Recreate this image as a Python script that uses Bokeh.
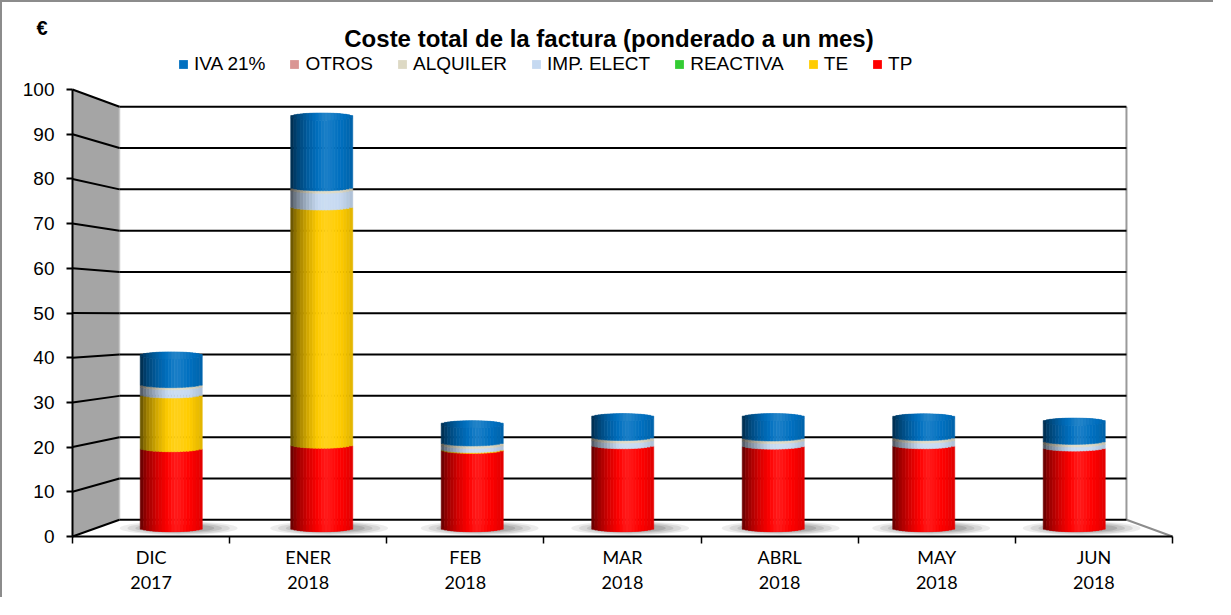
import numpy as np
from bokeh.plotting import figure
from bokeh.models import (Range1d, FixedTicker, LinearAxis, Legend, LegendItem,
                          Label, ColumnDataSource)
from bokeh.embed import file_html
from bokeh.resources import INLINE

# ---------------- data ----------------
CATEGORIES = ["DIC", "ENER", "FEB", "MAR", "ABRL", "MAY", "JUN"]
YEARS = ["2017", "2018", "2018", "2018", "2018", "2018", "2018"]
TP = [18.6, 19.4, 18.2, 19.3, 19.2, 19.3, 18.75]
TE = [12.5, 55.4, 0.2, 0.0, 0.0, 0.0, 0.0]
REACTIVA = [0.0, 0.0, 0.0, 0.0, 0.0, 0.0, 0.0]
IMP_ELECT = [1.9, 3.9, 0.95, 1.3, 1.3, 1.3, 0.96]
ALQUILER = [0.5, 0.6, 0.6, 0.6, 0.6, 0.6, 0.6]
OTROS = [0.0, 0.0, 0.0, 0.0, 0.0, 0.0, 0.0]
IVA = [6.65, 16.4, 4.2, 4.6, 4.7, 4.55, 4.45]
Y_TICKS = list(range(0, 101, 10))

# stacking order bottom -> top
SERIES = [
    ("TP", TP, "#FF0000"),
    ("TE", TE, "#FFCC00"),
    ("REACTIVA", REACTIVA, "#33CC33"),
    ("IMP. ELECT", IMP_ELECT, "#C5D9F1"),
    ("ALQUILER", ALQUILER, "#DDD9C4"),
    ("OTROS", OTROS, "#DA9694"),
    ("IVA 21%", IVA, "#0070C0"),
]

# ---------------- layout / perspective ----------------
N = len(CATEGORIES)
W, H = 1213, 597
PX_PER_UNIT = 4.47          # vertical px per value unit (front plane)
PX_PER_CAT = 1100 / 7       # horizontal px per category (front plane)
LEFT_PAD = 70               # px from canvas left to the front value axis
TOP_PAD = 534               # px from canvas top to the value 0 line
BOTTOM_PAD = H - TOP_PAD
RIGHT_PAD = W - LEFT_PAD - 1100
BL, BR = 0.299, 0.293       # back wall inset (category units)
BOFF, BSC = 3.74, 0.924     # back wall vertical offset / scale
BAR_D = 0.5                 # depth of the columns
BAR_W = 0.3946
ELL_H = 3.6 / PX_PER_UNIT
N_STRIP = 20
PROF_T = [0.0, 0.1, 0.3, 0.55, 0.62, 0.85, 1.0]
PROF_F = [0.38, 0.6, 0.86, 1.1, 1.09, 0.97, 0.88]


def proj_x(u, d):
    return BL * d + u * (N - (BL + BR) * d) / N


def proj_y(v, d):
    return BOFF * d + v * (1 - (1 - BSC) * d)


def shade(hexc, f):
    r, g, b = (int(hexc[i:i + 2], 16) for i in (1, 3, 5))
    if f <= 1:
        r, g, b = r * f, g * f, b * f
    else:
        w = min(f - 1, 1)
        r, g, b = r + (255 - r) * w, g + (255 - g) * w, b + (255 - b) * w
    return "#%02x%02x%02x" % (int(round(r)), int(round(g)), int(round(b)))


p = figure(width=W, height=H,
           x_range=Range1d(-LEFT_PAD / PX_PER_CAT, N + RIGHT_PAD / PX_PER_CAT),
           y_range=Range1d(-BOTTOM_PAD / PX_PER_UNIT, TOP_PAD / PX_PER_UNIT),
           output_backend="svg", toolbar_location=None,
           x_axis_type=None, y_axis_type=None,
           min_border_left=0, min_border_right=0,
           min_border_top=0, min_border_bottom=0)
p.outline_line_color = None
p.background_fill_color = "white"
p.border_fill_color = "white"
p.styles = {"border-left": "2px solid #8c8c8c", "border-top": "2px solid #8c8c8c"}

vmax, vmin = Y_TICKS[-1], Y_TICKS[0]
bx0, bx1 = proj_x(0, 1), proj_x(N, 1)

# side wall
p.patch([0, 0, bx0, bx0], [vmin, vmax, proj_y(vmax, 1), proj_y(vmin, 1)],
        fill_color="#A5A5A5", line_color=None)
# floor
p.patch([0, N, bx1, bx0], [vmin, vmin, proj_y(vmin, 1), proj_y(vmin, 1)],
        fill_color="white", line_color=None)
# back wall left / right edges
p.segment([bx0], [proj_y(vmin, 1)], [bx0], [proj_y(vmax, 1)],
          line_color="#c8c8c8", line_width=1.5)
p.segment([bx1], [proj_y(vmin, 1)], [bx1], [proj_y(vmax, 1)],
          line_color="#9a9a9a", line_width=2)
# floor right edge
p.segment([bx1], [proj_y(vmin, 1)], [N], [vmin], line_color="#8c8c8c", line_width=2)

# grid lines on back wall and side wall
by = [proj_y(v, 1) for v in Y_TICKS]
p.segment([bx0] * len(Y_TICKS), by, [bx1] * len(Y_TICKS), by,
          line_color="black", line_width=2)
p.segment([0] * len(Y_TICKS), Y_TICKS, [bx0] * len(Y_TICKS), by,
          line_color="black", line_width=2)

# column centres at their depth
xc = [proj_x(i + 0.5, BAR_D) for i in range(N)]
base_y = proj_y(0, BAR_D)

# shadows
for wf, hp, a in [(1.9, 14, 0.10), (1.65, 12, 0.13), (1.4, 10, 0.16), (1.15, 8, 0.2)]:
    p.ellipse(x=[c + BAR_W * 0.12 for c in xc], y=[base_y] * N,
              width=BAR_W * wf, height=hp / PX_PER_UNIT,
              fill_color="#505050", fill_alpha=a, line_color=None)

# cylinders
totals = [sum(s[1][i] for s in SERIES) for i in range(N)]
top_color = []
for i in range(N):
    col = None
    for name, vals, c in SERIES:
        if vals[i] > 0:
            col = c
    top_color.append(col)

p.ellipse(x=xc, y=[base_y] * N, width=BAR_W, height=2 * ELL_H,
          fill_color=shade(SERIES[0][2], 0.85), line_color=None)
p.ellipse(x=xc, y=[proj_y(t, BAR_D) for t in totals], width=BAR_W,
          height=2 * ELL_H, fill_color=[shade(c, 0.85) for c in top_color],
          line_color=None)

sx, sb, st, sc = [], [], [], []
for i in range(N):
    for k in range(N_STRIP):
        t = (k + 0.5) / N_STRIP
        e = ELL_H * np.sqrt(max(0.0, 1 - (2 * t - 1) ** 2))
        f = float(np.interp(t, PROF_T, PROF_F))
        x = xc[i] - BAR_W / 2 + t * BAR_W
        cum = 0.0
        for name, vals, c in SERIES:
            v = vals[i]
            if v <= 0:
                continue
            sx.append(x)
            sb.append(proj_y(cum, BAR_D) - e)
            st.append(proj_y(cum + v, BAR_D) - e)
            sc.append(shade(c, f))
            cum += v
        topv = proj_y(cum, BAR_D)
        sx.append(x)
        sb.append(topv - e)
        st.append(topv + e)
        sc.append(shade(top_color[i], f * 1.04))

src = ColumnDataSource(dict(x=sx, bottom=sb, top=st, color=sc))
p.vbar(x="x", bottom="bottom", top="top", width=BAR_W / N_STRIP, source=src,
       fill_color="color", line_color="color", line_width=0.6)

# ---------------- axes ----------------
yax = LinearAxis(ticker=FixedTicker(ticks=Y_TICKS, minor_ticks=[]), bounds=(vmin, vmax),
                 fixed_location=0,
                 axis_line_color="black", axis_line_width=2,
                 major_tick_out=6, major_tick_in=0, major_tick_line_width=2,
                 minor_tick_out=0, minor_tick_in=0,
                 major_label_standoff=12,
                 major_label_text_font="Liberation Sans",
                 major_label_text_font_size="19px",
                 major_label_text_color="black")
p.add_layout(yax, "left")

xticks = [i + 0.5 for i in range(N)]
xax = LinearAxis(ticker=FixedTicker(ticks=xticks, minor_ticks=list(range(N + 1))),
                 bounds=(0, N), fixed_location=0,
                 major_label_overrides={t: c for t, c in zip(xticks, CATEGORIES)},
                 axis_line_color="black", axis_line_width=2,
                 major_tick_out=0, major_tick_in=0,
                 minor_tick_out=7, minor_tick_in=0,
                 minor_tick_line_color="black", minor_tick_line_width=1.5,
                 major_label_standoff=2,
                 major_label_text_font="Lato", major_label_text_font_size="18px",
                 major_label_text_color="black")
p.add_layout(xax, "below")
xax2 = LinearAxis(ticker=FixedTicker(ticks=xticks, minor_ticks=[]),
                  bounds=(0, N), fixed_location=0,
                  major_label_overrides={t: y for t, y in zip(xticks, YEARS)},
                  axis_line_color=None, major_tick_line_color=None,
                  minor_tick_line_color=None,
                  major_tick_out=0, major_tick_in=0,
                  major_label_standoff=39,
                  major_label_text_font="Lato", major_label_text_font_size="18px",
                  major_label_text_color="black")
p.add_layout(xax2, "below")

# ---------------- legend ----------------
items = []
for name, vals, c in reversed(SERIES):
    r = p.scatter(x=[-100], y=[-100], marker="square", size=9,
                  fill_color=c, line_color=None)
    items.append(LegendItem(label=name, renderers=[r]))
legend = Legend(items=items, orientation="horizontal",
                location=(100 + LEFT_PAD, H - 73),
                glyph_width=22, glyph_height=22, label_standoff=0, spacing=18,
                padding=0, margin=0, border_line_color=None,
                background_fill_alpha=0, label_height=22,
                label_text_font="Liberation Sans", label_text_font_size="19px",
                label_text_color="black")
p.add_layout(legend)

# ---------------- titles ----------------
p.add_layout(Label(x=536.5 + LEFT_PAD, y=H - 36, x_units="screen", y_units="screen",
                   text="Coste total de la factura (ponderado a un mes)",
                   text_align="center", text_baseline="middle",
                   text_font="Liberation Sans", text_font_style="bold",
                   text_font_size="24px", text_color="black"))
p.add_layout(Label(x=34, y=H - 25, x_units="screen", y_units="screen", text="€",
                   text_align="left", text_baseline="middle",
                   text_font="Liberation Sans", text_font_style="bold",
                   text_font_size="20px", text_color="black"))

open("out.html", "w", encoding="utf-8").write(file_html(p, INLINE))
